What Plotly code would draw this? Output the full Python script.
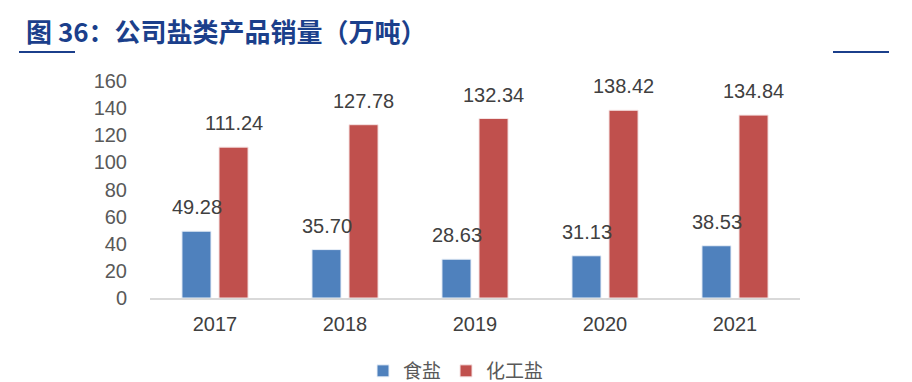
import plotly.graph_objects as go

years = ["2017", "2018", "2019", "2020", "2021"]
edible_salt = [49.28, 35.70, 28.63, 31.13, 38.53]
chem_salt = [111.24, 127.78, 132.34, 138.42, 134.84]
series_names = ["食盐", "化工盐"]
y_ticks = [0, 20, 40, 60, 80, 100, 120, 140, 160]
title_text = "图 36：公司盐类产品销量（万吨）"

blue = "#4F81BD"
red = "#C0504D"
navy = "#1B3F8B"
font_fam = "Liberation Sans, Arial, sans-serif"

# page body has an 8px margin, so the figure is 8px smaller and shifted
OFF = 8
W, H = 912 - OFF, 382 - OFF
ML, MR, MT, MB = 150 - OFF, 112, 81 - OFF, 84

fig = go.Figure()
fig.add_trace(go.Bar(x=years, y=edible_salt, name=series_names[0],
                     marker=dict(color=blue, line=dict(color="#EAF0F8", width=1))))
fig.add_trace(go.Bar(x=years, y=chem_salt, name=series_names[1],
                     marker=dict(color=red, line=dict(color="#F5E3E3", width=1))))

annotations = []
for i, yr in enumerate(years):
    for vals, shift in ((edible_salt, -18.5), (chem_salt, 18.5)):
        annotations.append(dict(x=i, y=vals[i], xref="x", yref="y", text=f"{vals[i]:.2f}",
                                showarrow=False, xshift=shift, yshift=11, yanchor="bottom",
                                font=dict(family=font_fam, size=20, color="#404040")))

fig.update_layout(
    width=W, height=H,
    margin=dict(l=ML, r=MR, t=MT, b=MB, autoexpand=False),
    plot_bgcolor="white", paper_bgcolor="white",
    barmode="group", bargap=0.43, bargroupgap=0.216,
    title=dict(text=f"<b>{title_text}</b>", xref="container", yref="container",
               x=18 / W, y=1 - 25 / H, xanchor="left", yanchor="middle",
               font=dict(family="Noto Sans CJK SC", size=26, color=navy)),
    showlegend=True,
    legend=dict(orientation="h", xref="container", yref="container",
                x=(456 - OFF) / W, xanchor="center", y=1 - (371 - OFF) / H, yanchor="middle",
                font=dict(family="Noto Sans CJK SC", size=19, color="#595959"),
                traceorder="normal"),
    xaxis=dict(type="category", range=[-0.5, len(years) - 0.5], autorange=False,
               showgrid=False, showline=True, linecolor="#D9D9D9", linewidth=2,
               tickfont=dict(family=font_fam, size=20, color="#404040"),
               ticks="outside", ticklen=7, tickcolor="rgba(0,0,0,0)"),
    yaxis=dict(range=[0, 160], tickvals=y_ticks, showgrid=False, zeroline=False, showline=False,
               tickfont=dict(family=font_fam, size=20, color="#595959"),
               ticklabelstandoff=22),
    annotations=annotations,
)

pw = W - ML - MR
ph = H - MT - MB
def px(x):
    return (x - OFF - ML) / pw
def py(y):
    return (H - MB - (y - OFF)) / ph

fig.add_shape(type="line", xref="paper", yref="paper", x0=px(19), x1=px(75), y0=py(52), y1=py(52),
              line=dict(color=navy, width=2))
fig.add_shape(type="line", xref="paper", yref="paper", x0=px(833), x1=px(889), y0=py(52), y1=py(52),
              line=dict(color=navy, width=2))

fig.write_html("out.html")
